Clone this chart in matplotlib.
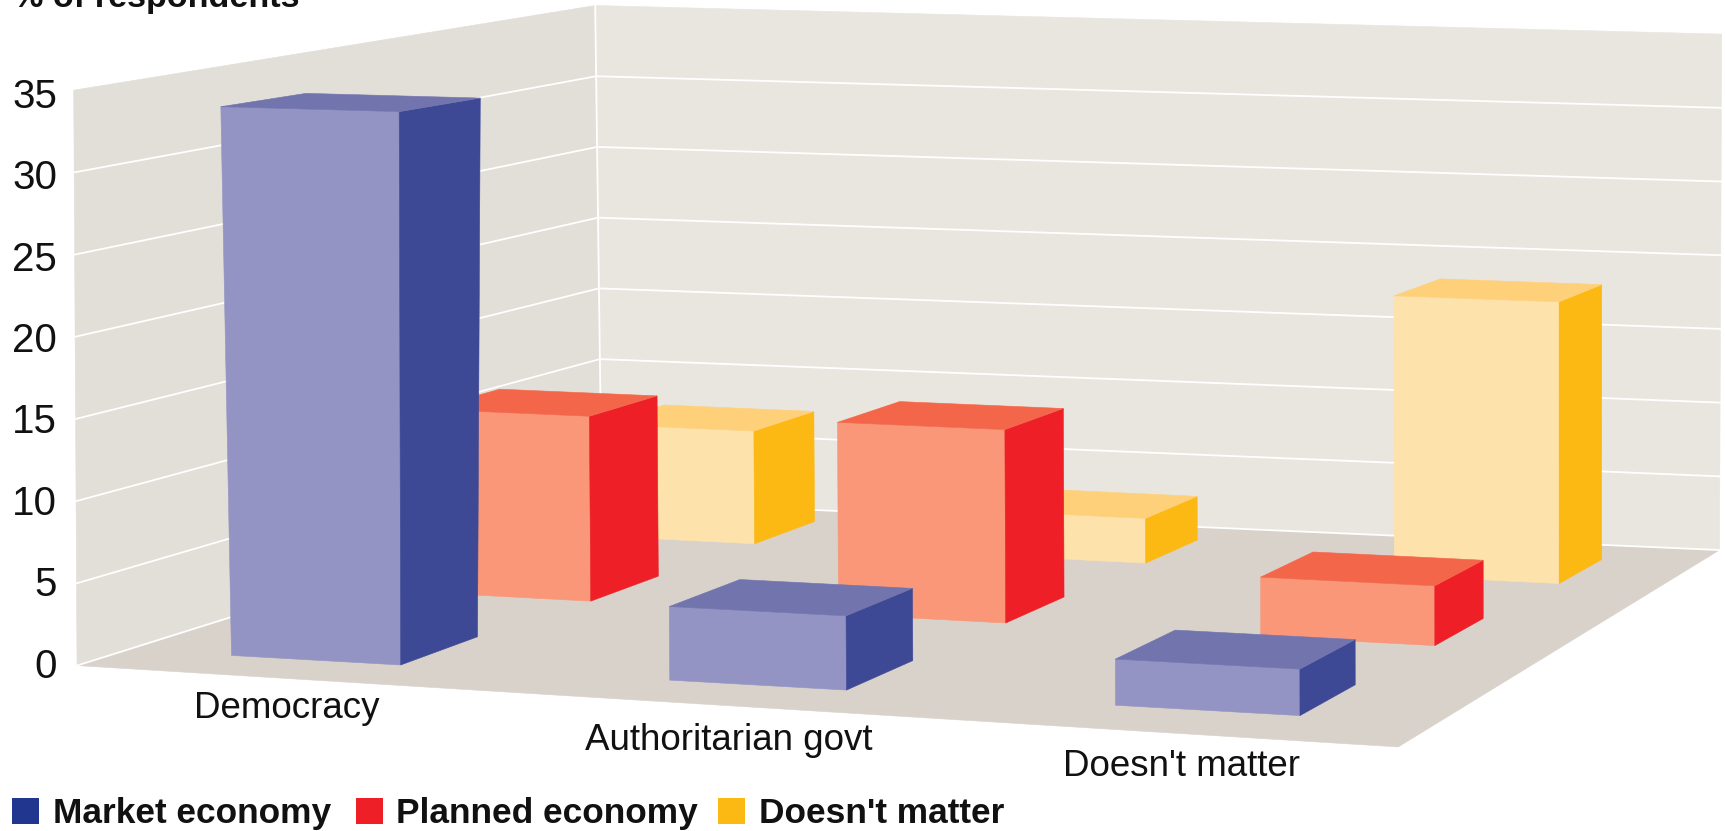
import numpy as np
import matplotlib
matplotlib.use("Agg")
import matplotlib.pyplot as plt
from matplotlib.patches import Polygon, Rectangle

plt.rcParams["font.family"] = ["Liberation Sans", "DejaVu Sans"]

categories = ["Democracy", "Authoritarian govt", "Doesn't matter"]
series = ["Market economy", "Planned economy", "Doesn't matter"]
market = [33.4, 4.4, 2.7]
planned = [11.9, 12.2, 3.7]
doesnt_matter = [7.7, 3.0, 18.5]
z_ticks = [0, 5, 10, 15, 20, 25, 30, 35]

# face colours: front, side, top, legend swatch
MARKET_COLS = ("#9394c3", "#3e4996", "#7274ae", "#20368f")
PLANNED_COLS = ("#f99778", "#ee1f26", "#f4664a", "#ee1f26")
DM_COLS = ("#fde2ac", "#fdb913", "#ffd07a", "#fdb913")

# bar layout on the floor, box is x 0-3, y 0-1 (0 = front)
BAR_RIGHT = [
    [0.637, 1.685, 2.706],
    [0.673, 1.703, 2.726],
    [0.693, 1.716, 2.757],
]
ROW_FRONT = [0.098, 0.435, 0.775]
BAR_W = 0.41
BAR_D = 0.142

# box corners -> picture position, used to fit the camera
WORLD = np.array([[0, 0, 0], [0, 0, 35], [0, 1, 0], [0, 1, 35],
                  [3, 1, 0], [3, 1, 35], [3, 0, 0]], float)
PIX = np.array([[70, 605], [67, 82], [547, 455], [541, 5],
                [1563, 500], [1565, 31], [1271, 679]], float)


def fit_camera(world, pix):
    rows = []
    for (x, y, z), (u, v) in zip(world, pix):
        rows.append([x, y, z, 1, 0, 0, 0, 0, -u * x, -u * y, -u * z, -u])
        rows.append([0, 0, 0, 0, x, y, z, 1, -v * x, -v * y, -v * z, -v])
    return np.linalg.svd(np.array(rows))[2][-1].reshape(3, 4)


CAM = fit_camera(WORLD, PIX)


def proj(x, y, z):
    w = CAM @ np.array([x, y, z, 1.0])
    return w[:2] / w[2]


def edge_pt(edge, z):
    # point on a vertical wall edge, 0 = front left, 1 = back corner, 2 = right
    low, high = PIX[edge * 2], PIX[edge * 2 + 1]
    return low + (high - low) * z / 35


def face(ax, pts, color, z=1):
    ax.add_patch(Polygon(pts, closed=True, fc=color, ec=color, lw=0.4, zorder=z))


def draw_bar(ax, right, front, h, cols, flare=0.0, flare_at=0.0):
    left = right - BAR_W
    back = front + BAR_D

    def top(x, y):
        # the tall bar opens out a bit towards its top in the original
        p = proj(x, y, h)
        p[0] += flare * (p[0] - flare_at)
        return p

    face(ax, [proj(left, front, 0), proj(right, front, 0), top(right, front), top(left, front)], cols[0], 3)
    face(ax, [proj(right, front, 0), proj(right, back, 0), top(right, back), top(right, front)], cols[1], 3)
    face(ax, [top(left, front), top(right, front), top(right, back), top(left, back)], cols[2], 3)


def main():
    fig = plt.figure(figsize=(17.25, 8.31), dpi=100)
    ax = fig.add_axes([0, 0, 1, 1])
    ax.set_xlim(0, 1568)
    ax.set_ylim(755.4, 0)
    ax.axis("off")

    # walls and floor
    face(ax, [PIX[0], PIX[2], PIX[3], PIX[1]], "#e2ded8")
    face(ax, [PIX[2], PIX[4], PIX[5], PIX[3]], "#e9e6e0")
    face(ax, [PIX[0], PIX[6], PIX[4], PIX[2]], "#d9d2cb")

    for z in z_ticks[:-1]:
        pts = np.array([edge_pt(0, z), edge_pt(1, z), edge_pt(2, z)])
        ax.plot(pts[:, 0], pts[:, 1], color="white", lw=1.3, zorder=2)
    ax.plot(PIX[2:4, 0], PIX[2:4, 1], color="white", lw=1.3, zorder=2)

    # back row first so the front bars cover it
    rows = [(doesnt_matter, DM_COLS, 2), (planned, PLANNED_COLS, 1), (market, MARKET_COLS, 0)]
    for values, cols, r in rows:
        for c, h in enumerate(values):
            if r == 0 and c == 0:
                draw_bar(ax, BAR_RIGHT[r][c], ROW_FRONT[r], h, cols, flare=0.05, flare_at=299)
            else:
                draw_bar(ax, BAR_RIGHT[r][c], ROW_FRONT[r], h, cols)

    for z in z_ticks:
        y = edge_pt(0, z)[1]
        ax.text(52, y + 1 + 5 * z / 35, str(z), fontsize=29, ha="right", va="center", color="#111111")

    label_pos = [(261, 644), (662, 673), (1074, 697)]
    for name, (x, y) in zip(categories, label_pos):
        ax.text(x, y, name, fontsize=26.5, ha="center", va="center", color="#111111")

    ax.text(12, 6.4, "% of respondents", fontsize=24.6, fontweight="bold", va="baseline", color="#111111")

    # legend
    swatch_x = [11, 324, 653]
    text_x = [48, 360, 690]
    for name, cols, sx, tx in zip(series, (MARKET_COLS, PLANNED_COLS, DM_COLS), swatch_x, text_x):
        ax.add_patch(Rectangle((sx, 725), 24.5, 24, fc=cols[3], ec="none"))
        ax.text(tx, 748, name, fontsize=25.4, fontweight="bold", va="baseline", color="#111111")

    fig.savefig("out.png", dpi=100)


if __name__ == "__main__":
    main()
